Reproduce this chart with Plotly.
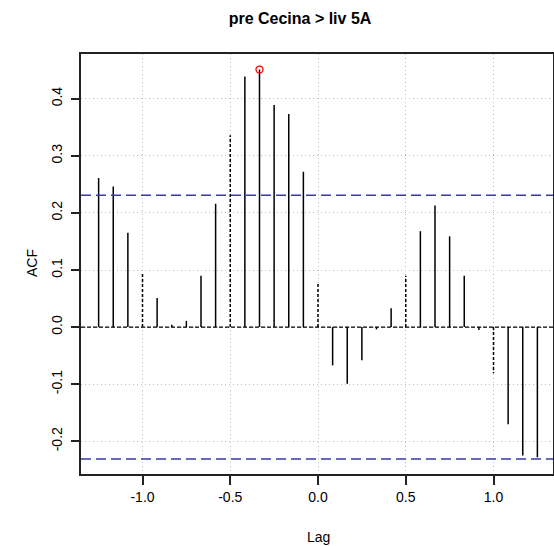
import plotly.graph_objects as go

lags_k = list(range(-15, 16))
lags = [k / 12 for k in lags_k]
acf = [0.261, 0.246, 0.165, 0.095, 0.051, 0.004, 0.011, 0.090, 0.216, 0.336,
       0.439, 0.451, 0.389, 0.373, 0.272, 0.077, -0.067, -0.099, -0.058, -0.004,
       0.033, 0.090, 0.168, 0.213, 0.159, 0.090, -0.005, -0.081, -0.170, -0.225, -0.228]
ci = 0.231
title = "pre Cecina > liv 5A"
xticks = [-1.0, -0.5, 0.0, 0.5, 1.0]
xticklabels = ["-1.0", "-0.5", "0.0", "0.5", "1.0"]
yticks = [-0.2, -0.1, 0.0, 0.1, 0.2, 0.3, 0.4]
yticklabels = ["-0.2", "-0.1", "0.0", "0.1", "0.2", "0.3", "0.4"]

FONT = "Liberation Sans, Arial, sans-serif"
L, R, T, B = 81, 553, 54, 474
PW, PH = R - L, B - T

solid_x, solid_y, dash_x, dash_y = [], [], [], []
for k, x, y in zip(lags_k, lags, acf):
    if k % 6 == 0:
        dash_x += [x, x, None]; dash_y += [0, y, None]
    else:
        solid_x += [x, x, None]; solid_y += [0, y, None]

fig = go.Figure()
fig.add_trace(go.Scatter(x=solid_x, y=solid_y, mode="lines",
                         line=dict(color="black", width=1.5), hoverinfo="skip"))
fig.add_trace(go.Scatter(x=dash_x, y=dash_y, mode="lines",
                         line=dict(color="black", width=1.5, dash="3px,2px"), hoverinfo="skip"))

xmin, xmax = -1.3504, 1.3390
fig.add_trace(go.Scatter(x=[xmin, xmax], y=[0, 0], mode="lines",
                         line=dict(color="black", width=1.3, dash="4px,2px"), hoverinfo="skip"))
for v in (ci, -ci):
    fig.add_trace(go.Scatter(x=[xmin, xmax], y=[v, v], mode="lines",
                             line=dict(color="#3a3aa8", width=1.6, dash="10px,5px"), hoverinfo="skip"))

imax = max(range(len(acf)), key=lambda i: acf[i])
fig.add_trace(go.Scatter(x=[lags[imax]], y=[acf[imax]], mode="markers",
                         marker=dict(symbol="circle-open", color="red", size=7, line=dict(width=1.3)),
                         hoverinfo="skip"))

fig.update_layout(
    width=554, height=546,
    margin=dict(l=L, r=554 - R, t=T, b=546 - B, autoexpand=False),
    paper_bgcolor="white", plot_bgcolor="white",
    showlegend=False,
    font=dict(family=FONT, size=14, color="black"),
    title=dict(text="<b>" + title + "</b>", x=300 / 554, xanchor="center", xref="container",
               y=1 - 18 / 546, yanchor="middle", font=dict(size=16)),
)
GRID = dict(showgrid=True, gridcolor="#bdbdbd", griddash="1px,3px", gridwidth=1)
fig.update_xaxes(range=[xmin, xmax], tickvals=xticks, ticktext=xticklabels, automargin=False,
                 zeroline=False, showline=True, linecolor="#222222", linewidth=1.5, mirror=True,
                 ticks="outside", ticklen=9, tickwidth=1.5, tickcolor="#222222", **GRID)
fig.update_yaxes(range=[-0.2572, 0.4782], tickvals=yticks, ticktext=yticklabels,
                 tickangle=-90, automargin=False, ticklabelstandoff=4,
                 zeroline=False, showline=True, linecolor="#222222", linewidth=1.5, mirror=True,
                 ticks="outside", ticklen=8, tickwidth=1.5, tickcolor="#222222", **GRID)

fig.add_annotation(text="Lag", xref="paper", yref="paper", x=(318 - L) / PW, y=-(537 - B) / PH,
                   showarrow=False, xanchor="center", yanchor="middle")
fig.add_annotation(text="ACF", xref="paper", yref="paper", x=-(L - 32) / PW, y=(B - 263) / PH,
                   showarrow=False, textangle=-90, xanchor="center", yanchor="middle")

fig.write_html("out.html", config={"displayModeBar": False},
               post_script="document.body.style.margin='0';document.body.style.overflow='hidden';")
